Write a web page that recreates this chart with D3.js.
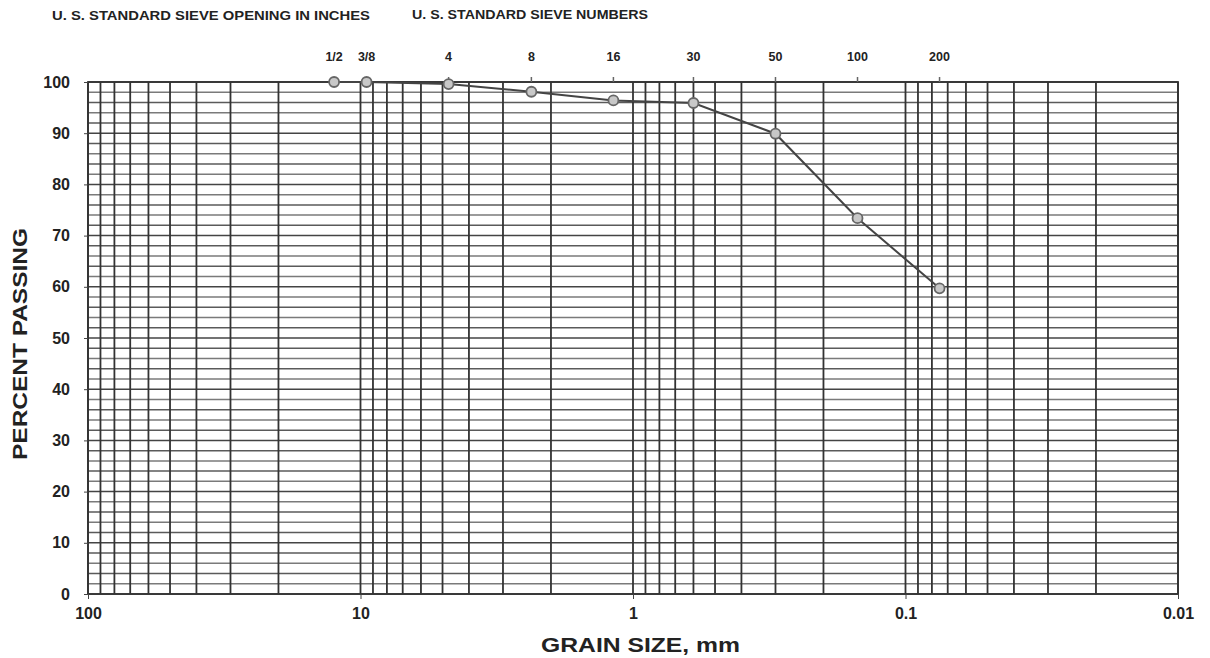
<!DOCTYPE html>
<html>
<head>
<meta charset="utf-8">
<script src="https://cdnjs.cloudflare.com/ajax/libs/d3/7.8.5/d3.min.js"></script>
<style>
  html, body { margin: 0; padding: 0; background: #fff; }
  svg { display: block; }
  text { font-family: "Liberation Sans", Arial, sans-serif; font-weight: bold; fill: #222; }
</style>
</head>
<body>
<svg id="chart" width="1210" height="658"></svg>
<script>
// ---- data ----
const sieveLabels = ["1/2", "3/8", "4", "8", "16", "30", "50", "100", "200"];
const grainSizes = [12.5, 9.5, 4.75, 2.36, 1.18, 0.6, 0.3, 0.15, 0.075];   // mm
const percentPassing = [100, 100, 99.6, 98.1, 96.4, 95.9, 89.9, 73.4, 59.7];
const xTickValues = [100, 10, 1, 0.1, 0.01];
const xTickLabels = ["100", "10", "1", "0.1", "0.01"];
const yTickValues = [0, 10, 20, 30, 40, 50, 60, 70, 80, 90, 100];

// ---- layout ----
const svg = d3.select("#chart");
const pL = 88, pR = 1178, pT = 82, pB = 594;

const x = d3.scaleLog().domain([100, 0.01]).range([pL, pR]);
const y = d3.scaleLinear().domain([0, 100]).range([pB, pT]);

// vertical log grid lines
const vLines = [];
for (let e = -2; e <= 1; e++) {
  for (let m = 1; m <= 9; m++) vLines.push(m * Math.pow(10, e));
}
vLines.push(100);
const grid = svg.append("g");
grid.selectAll("line.h")
  .data(d3.range(0, 101, 2))
  .join("line")
  .attr("class", "h")
  .attr("x1", pL).attr("x2", pR)
  .attr("y1", d => y(d)).attr("y2", d => y(d))
  .attr("stroke", d => d % 10 === 0 ? "#444" : (d % 4 === 2 ? "#7a7a7a" : "#5a5a5a"))
  .attr("stroke-width", 1.5);
grid.selectAll("line.v")
  .data(vLines)
  .join("line")
  .attr("class", "v")
  .attr("x1", d => x(d)).attr("x2", d => x(d))
  .attr("y1", pT).attr("y2", pB)
  .attr("stroke", "#333")
  .attr("stroke-width", 1.8);

// border
svg.append("rect")
  .attr("x", pL).attr("y", pT)
  .attr("width", pR - pL).attr("height", pB - pT)
  .attr("fill", "none").attr("stroke", "#333").attr("stroke-width", 1.8);

// axes
const xAxis = d3.axisBottom(x).tickValues(xTickValues)
  .tickFormat((d, i) => xTickLabels[i]).tickSize(5).tickPadding(6);
const gx = svg.append("g").attr("transform", `translate(0,${pB})`).call(xAxis);
gx.select(".domain").remove();
gx.selectAll("line").attr("stroke", "#444");
gx.selectAll("text").style("font-size", "16px").style("font-weight", "bold")
  .attr("fill", "#222").attr("dy", "0.85em");

const yAxis = d3.axisLeft(y).tickValues(yTickValues).tickSize(4).tickPadding(14);
const gy = svg.append("g").attr("transform", `translate(${pL},0)`).call(yAxis);
gy.select(".domain").remove();
gy.selectAll("line").attr("stroke", "#444");
gy.selectAll("text").style("font-size", "16px").style("font-weight", "bold").attr("fill", "#222");

// sieve labels and small ticks along top
const sv = svg.append("g");
sv.selectAll("text")
  .data(sieveLabels)
  .join("text")
  .attr("x", (d, i) => x(grainSizes[i]))
  .attr("y", 61)
  .attr("text-anchor", "middle")
  .style("font-size", "12.5px")
  .text(d => d);
sv.selectAll("line")
  .data(grainSizes)
  .join("line")
  .attr("x1", d => x(d)).attr("x2", d => x(d))
  .attr("y1", pT - 5).attr("y2", pT)
  .attr("stroke", "#666").attr("stroke-width", 1.5);

// header texts
svg.append("text").attr("x", 52).attr("y", 20)
  .style("font-size", "12.5px").attr("textLength", 318).attr("lengthAdjust", "spacingAndGlyphs")
  .text("U. S. STANDARD SIEVE OPENING IN INCHES");
svg.append("text").attr("x", 412).attr("y", 19)
  .style("font-size", "12.5px").attr("textLength", 236).attr("lengthAdjust", "spacingAndGlyphs")
  .text("U. S. STANDARD SIEVE NUMBERS");

// axis titles
svg.append("text").attr("x", 541).attr("y", 652)
  .style("font-size", "20px").attr("textLength", 199).attr("lengthAdjust", "spacingAndGlyphs")
  .text("GRAIN SIZE, mm");
svg.append("text")
  .attr("transform", "translate(27,460) rotate(-90)")
  .style("font-size", "20px").attr("textLength", 232).attr("lengthAdjust", "spacingAndGlyphs")
  .text("PERCENT PASSING");

// gradation curve
const pts = grainSizes.map((g, i) => [g, percentPassing[i]]);
svg.append("path")
  .datum(pts)
  .attr("d", d3.line().x(d => x(d[0])).y(d => y(d[1])))
  .attr("fill", "none").attr("stroke", "#444").attr("stroke-width", 2);
svg.selectAll("circle.pt")
  .data(pts)
  .join("circle")
  .attr("class", "pt")
  .attr("cx", d => x(d[0])).attr("cy", d => y(d[1]))
  .attr("r", 5)
  .attr("fill", "#c8c8c8").attr("stroke", "#666").attr("stroke-width", 1.8);
</script>
</body>
</html>
